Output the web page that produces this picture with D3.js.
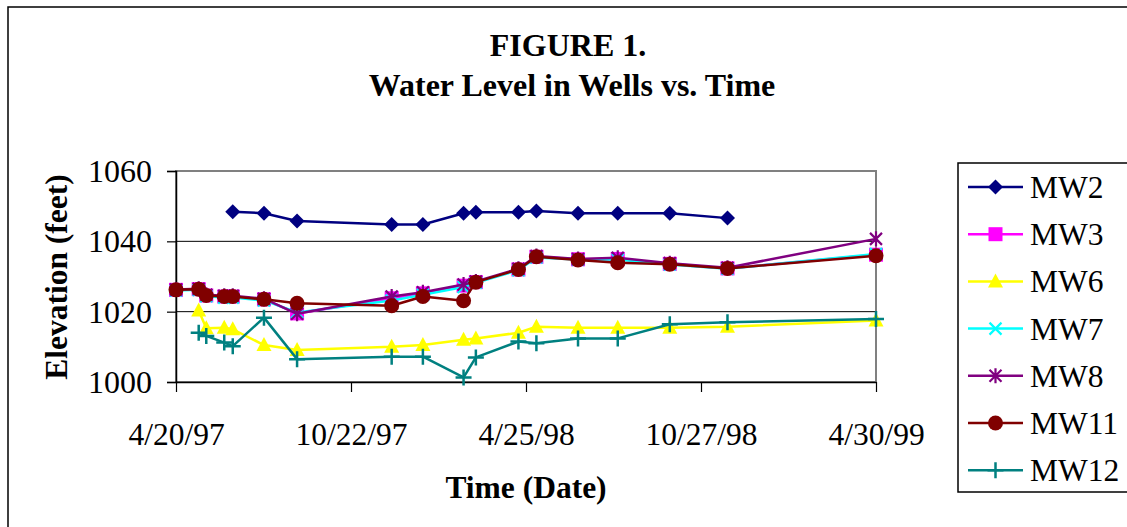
<!DOCTYPE html>
<html>
<head>
<meta charset="utf-8">
<script src="https://cdn.jsdelivr.net/npm/d3@7"></script>
<style>
  html, body { margin: 0; padding: 0; background: #fff; }
  svg { display: block; }
  text { font-family: "Liberation Serif", "Times New Roman", serif; fill: #000; }
</style>
</head>
<body>
<svg id="chart" width="1127" height="527"></svg>
<script>
// ---- data ----
const dates = ["1997-04-20","1997-05-14","1997-05-22","1997-06-10","1997-06-19","1997-07-22","1997-08-26",
  "1997-12-04","1998-01-06","1998-02-18","1998-03-03","1998-04-17","1998-05-06","1998-06-19","1998-07-31",
  "1998-09-24","1998-11-24","1999-04-30"];
const MW2  = [null,null,null,null,1048.4,1048.0,1045.8,1044.8,1044.8,1048.0,1048.3,1048.3,1048.6,1048.0,1048.0,1048.0,1046.6,null];
const MW3  = [1026.2,1026.4,1024.6,1024.3,1024.3,1023.5,1019.5,1023.8,1025.2,1027.4,1028.4,1032.0,1035.6,1034.9,1035.0,1033.6,1032.3,1036.2];
const MW6  = [null,1020.3,1015.3,1015.4,1015.0,1010.5,1009.1,1010.0,1010.5,1012.0,1012.4,1014.0,1015.7,1015.4,1015.4,1015.4,1015.7,1017.5];
const MW7  = [1026.0,1026.2,1024.4,1024.0,1024.0,1023.2,1019.8,1023.2,1024.8,1027.0,1028.2,1031.8,1035.4,1034.8,1034.8,1033.4,1032.2,1036.4];
const MW8  = [1026.3,1026.5,1024.8,1024.5,1024.5,1023.7,1019.4,1024.3,1025.5,1027.7,1028.6,1032.2,1035.8,1035.0,1035.3,1033.8,1032.5,1040.7];
const MW11 = [1026.2,1026.4,1024.6,1024.3,1024.3,1023.5,1022.4,1021.7,1024.3,1023.1,1028.4,1032.0,1035.6,1034.7,1033.9,1033.5,1032.3,1035.9];
const MW12 = [null,1014.0,1013.1,1011.2,1010.2,1018.3,1006.5,1007.2,1007.2,1001.3,1007.0,1011.5,1011.0,1012.4,1012.4,1016.4,1017.0,1017.9];
const seriesNames = ["MW2","MW3","MW6","MW7","MW8","MW11","MW12"];
const seriesValues = [MW2, MW3, MW6, MW7, MW8, MW11, MW12];
const xTickLabels = ["1997-04-20","1997-10-22","1998-04-25","1998-10-27","1999-04-30"];
const yTicks = [1000, 1020, 1040, 1060];

// ---- styles ----
const colors = {MW2:"#000080", MW3:"#FF00FF", MW6:"#FFFF00", MW7:"#00FFFF", MW8:"#800080", MW11:"#800000", MW12:"#008080"};
const markers = {MW2:"diamond", MW3:"square", MW6:"triangle", MW7:"x", MW8:"star", MW11:"circle", MW12:"plus"};

const parse = d3.utcParse("%Y-%m-%d");
const svg = d3.select("#chart");

// outer chart border
svg.append("rect").attr("x", 8).attr("y", 7).attr("width", 1300).attr("height", 700)
  .attr("fill", "#fff").attr("stroke", "#000").attr("stroke-width", 1.5);

const L = 176, R = 876, T = 171, B = 382;
const x = d3.scaleUtc().domain([parse(xTickLabels[0]), parse(xTickLabels[xTickLabels.length-1])]).range([L, R]);
const y = d3.scaleLinear().domain([1000, 1060]).range([B, T]);

// title
svg.append("text").attr("x", 568).attr("y", 56).attr("text-anchor", "middle")
  .style("font-size", "32px").style("font-weight", "bold").text("FIGURE 1.");
svg.append("text").attr("x", 572).attr("y", 96).attr("text-anchor", "middle")
  .style("font-size", "32px").style("font-weight", "bold").text("Water Level in Wells vs. Time");

// plot area frame
svg.append("rect").attr("x", L).attr("y", T).attr("width", R - L).attr("height", B - T)
  .attr("fill", "#fff").attr("stroke", "#808080").attr("stroke-width", 2);

// gridlines
svg.append("g").selectAll("line").data(yTicks.filter(v => v > 1000 && v < 1060)).join("line")
  .attr("x1", L).attr("x2", R).attr("y1", d => y(d)).attr("y2", d => y(d))
  .attr("stroke", "#000").attr("stroke-width", 1);

// y axis
const yAxis = svg.append("g").attr("transform", `translate(${L},0)`)
  .call(d3.axisLeft(y).tickValues(yTicks).tickSize(9).tickPadding(15).tickFormat(d3.format("d")));
yAxis.select(".domain").attr("stroke", "#000").attr("stroke-width", 1.5);
yAxis.selectAll(".tick line").attr("stroke", "#000").attr("stroke-width", 1.2);
yAxis.selectAll("text").style("font-size", "32px").style("font-family", "Liberation Serif").attr("dy", "0.33em");

// x axis
const xAxis = svg.append("g").attr("transform", `translate(0,${B})`)
  .call(d3.axisBottom(x).tickValues(xTickLabels.map(parse)).tickSize(10).tickSizeOuter(0).tickFormat(d3.utcFormat("%-m/%-d/%y")));
xAxis.select(".domain").attr("stroke", "#000").attr("stroke-width", 1.5);
xAxis.selectAll(".tick line").attr("stroke", "#000").attr("stroke-width", 1.2);
xAxis.selectAll("text").style("font-size", "31.5px").style("font-family", "Liberation Serif")
  .attr("y", 63).attr("dy", 0);

// axis titles
svg.append("text").attr("transform", "translate(67,277) rotate(-90)").attr("text-anchor", "middle")
  .style("font-size", "31.5px").style("font-weight", "bold").text("Elevation (feet)");
svg.append("text").attr("x", 526).attr("y", 498).attr("text-anchor", "middle")
  .style("font-size", "31.5px").style("font-weight", "bold").text("Time (Date)");

// marker drawing
function drawMarker(g, type, color) {
  switch (type) {
    case "diamond":
      g.append("path").attr("d", "M0,-7.5L7.5,0L0,7.5L-7.5,0Z").attr("fill", color); break;
    case "square":
      g.append("rect").attr("x", -7).attr("y", -7).attr("width", 14).attr("height", 14).attr("fill", color); break;
    case "triangle":
      g.append("path").attr("d", "M0,-8L7.5,6L-7.5,6Z").attr("fill", color); break;
    case "x":
      g.append("path").attr("d", "M-6,-6L6,6M-6,6L6,-6").attr("stroke", color).attr("stroke-width", 2.2).attr("fill", "none"); break;
    case "star":
      g.append("path").attr("d", "M-6,-6L6,6M-6,6L6,-6M0,-7.5L0,7.5").attr("stroke", color).attr("stroke-width", 2.2).attr("fill", "none"); break;
    case "circle":
      g.append("circle").attr("r", 7.5).attr("fill", color); break;
    case "plus":
      g.append("path").attr("d", "M-8,0L8,0M0,-8L0,8").attr("stroke", color).attr("stroke-width", 2.5).attr("fill", "none"); break;
  }
}

// series
const line = d3.line().defined(d => d.v != null).x(d => x(d.date)).y(d => y(d.v));
const plot = svg.append("g");
seriesNames.forEach((name, i) => {
  const pts = dates.map((dt, j) => ({date: parse(dt), v: seriesValues[i][j]}));
  const valid = pts.filter(p => p.v != null);
  const g = plot.append("g");
  g.append("path").datum(valid).attr("d", line).attr("fill", "none")
    .attr("stroke", colors[name]).attr("stroke-width", 2.5).attr("stroke-linejoin", "round");
  valid.forEach(p => {
    const m = g.append("g").attr("transform", `translate(${x(p.date)},${y(p.v)})`);
    drawMarker(m, markers[name], colors[name]);
  });
});

// legend
const lg = svg.append("g");
lg.append("rect").attr("x", 958).attr("y", 163).attr("width", 300).attr("height", 329)
  .attr("fill", "#fff").attr("stroke", "#000").attr("stroke-width", 1.5);
seriesNames.forEach((name, i) => {
  const by = 198 + i * 47.2;
  const cy = by - 11;
  lg.append("line").attr("x1", 968).attr("x2", 1023).attr("y1", cy).attr("y2", cy)
    .attr("stroke", colors[name]).attr("stroke-width", 2.5);
  const m = lg.append("g").attr("transform", `translate(995.5,${cy})`);
  drawMarker(m, markers[name], colors[name]);
  lg.append("text").attr("x", 1030).attr("y", by).style("font-size", "31.5px").text(name);
});
</script>
</body>
</html>
